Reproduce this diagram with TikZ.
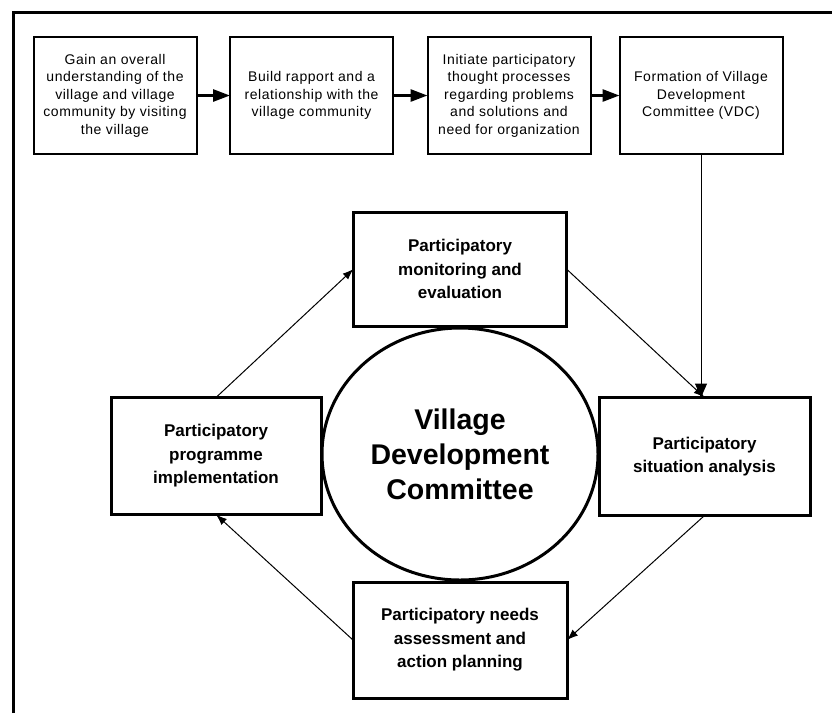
\documentclass[tikz,border=0pt]{standalone}
\usepackage{fontspec}
\setmainfont{Liberation Sans}
\newfontfamily\topfont[LetterSpace=4]{Liberation Sans}
\usetikzlibrary{arrows.meta,shapes.geometric}
\begin{document}
\begin{tikzpicture}[x=1pt,y=-1pt,
  topbox/.style={draw, line width=2pt, minimum width=163pt, minimum height=117pt,
    inner sep=0pt, outer sep=0pt, align=center,
    font=\topfont\fontsize{14}{17.5}\selectfont},
  cycbox/.style={draw, line width=3pt, inner sep=0pt, outer sep=0pt, align=center,
    font=\bfseries\fontsize{17}{23.5}\selectfont},
  toparrow/.style={line width=2.8pt, -{Triangle[length=17pt,width=12pt]}},
  cycarrow/.style={line width=1pt, -{Latex[length=11pt,width=8pt]}},
  vdcarrow/.style={line width=1pt, -{Triangle[length=14pt,width=12pt]}}
]
\useasboundingbox (0,0) rectangle (832,713);
\draw[line width=3pt] (13,713) -- (13,12) -- (832,12);

\node[topbox] (b1) at (115,95.5) {Gain an overall\\understanding of the\\village and village\\community by visiting\\the village};
\node[topbox] (b2) at (311.5,95.5) {Build rapport and a\\relationship with the\\village community};
\node[topbox] (b3) at (509,95.5) {Initiate participatory\\thought processes\\regarding problems\\and solutions and\\need for organization};
\node[topbox] (b4) at (701,95.5) {Formation of Village\\Development\\Committee (VDC)};

\node[cycbox, minimum width=213pt, minimum height=114pt] (mon) at (460,269) {Participatory\\monitoring and\\evaluation};
\node[cycbox, minimum width=210pt, minimum height=117pt] (impl) at (216,456) {Participatory\\programme\\implementation};
\node[cycbox, minimum width=211pt, minimum height=118pt] (sit) at (704.5,456.5) {Participatory\\situation analysis};
\node[cycbox, minimum width=214pt, minimum height=116pt] (need) at (460,640) {Participatory needs\\assessment and\\action planning};

\node[ellipse, draw, line width=3pt, minimum width=276pt, minimum height=252pt,
  inner sep=0pt, outer sep=0pt, align=center,
  font=\bfseries\fontsize{28.5}{35}\selectfont] (vdc) at (460,454) {Village\\Development\\Committee};

\draw[toparrow] (b1.east) -- (b2.west);
\draw[toparrow] (b2.east) -- (b3.west);
\draw[toparrow] (b3.east) -- (b4.west);
\draw[vdcarrow] (b4.south) -- (b4.south |- sit.north);

\draw[cycarrow] (mon.east) -- (sit.north);
\draw[cycarrow] (sit.south) -- (need.east);
\draw[cycarrow] (need.west) -- (impl.south);
\draw[cycarrow] (impl.north) -- (mon.west);
\end{tikzpicture}
\end{document}
